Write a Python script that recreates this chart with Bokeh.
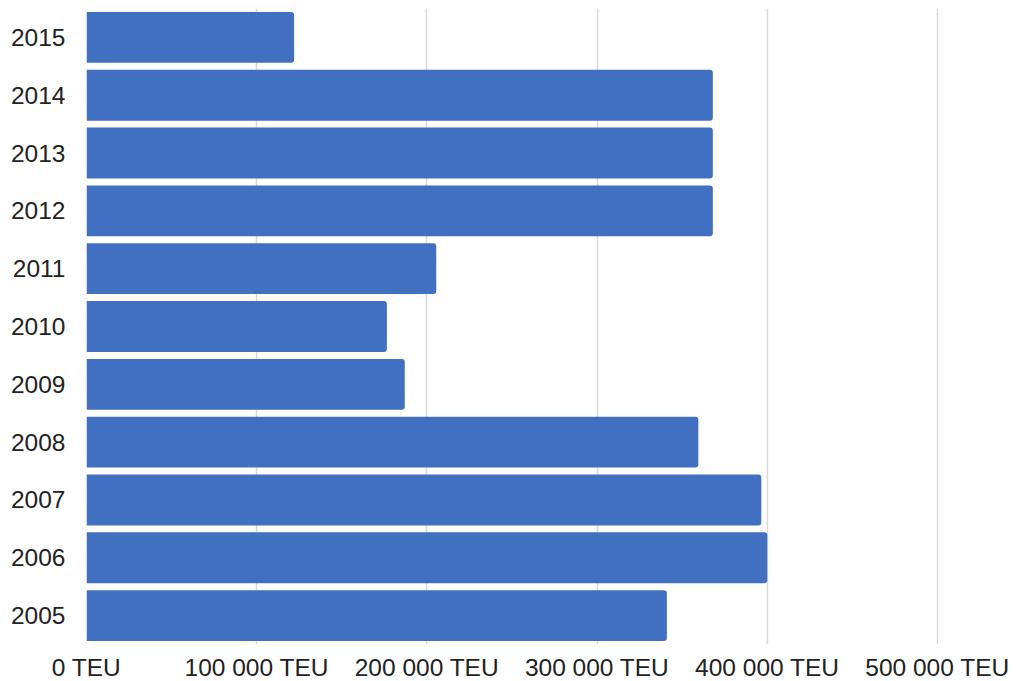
from bokeh.plotting import figure
from bokeh.models import ColumnDataSource, FactorRange, Range1d, FixedTicker
from bokeh.embed import file_html
from bokeh.resources import INLINE

years = ["2005", "2006", "2007", "2008", "2009", "2010", "2011", "2012", "2013", "2014", "2015"]
teu = [341000, 400000, 396500, 359500, 187000, 176500, 205500, 368000, 368000, 368000, 122000]
x_ticks = [0, 100000, 200000, 300000, 400000, 500000]
x_tick_labels = ["0 TEU", "100 000 TEU", "200 000 TEU", "300 000 TEU", "400 000 TEU", "500 000 TEU"]

src = ColumnDataSource(dict(year=years, teu=teu))

p = figure(frame_width=852, frame_height=636, y_range=FactorRange(*years, range_padding=0),
           x_range=Range1d(0, 500600), output_backend="svg", toolbar_location=None,
           min_border_left=86, min_border_right=78, min_border_top=8, min_border_bottom=30)
p.hbar(y="year", right="teu", left=0, height=0.88, source=src,
       fill_color="#4270C0", line_color=None, border_radius=(0, 3, 3, 0))

p.xaxis.ticker = FixedTicker(ticks=x_ticks)
p.xaxis.major_label_overrides = {t: l for t, l in zip(x_ticks, x_tick_labels)}
for ax in (p.xaxis[0], p.yaxis[0]):
    ax.axis_line_color = None
    ax.major_tick_line_color = None
    ax.minor_tick_line_color = None
    ax.major_label_text_font = "Liberation Sans"
    ax.major_label_text_font_size = "24.5px"
    ax.major_label_text_color = "#222222"
p.xaxis.major_label_standoff = 3
p.yaxis.major_label_standoff = 15
p.ygrid.grid_line_color = None
p.xgrid.grid_line_color = "#d9d9d9"
p.xgrid.grid_line_width = 1.5
p.outline_line_color = None
p.background_fill_color = "white"
p.border_fill_color = "white"

open("out.html", "w").write(file_html(p, INLINE))
